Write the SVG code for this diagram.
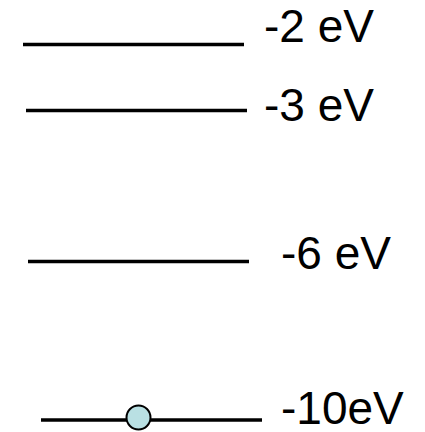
<svg xmlns="http://www.w3.org/2000/svg" width="425" height="432" viewBox="0 0 425 432">
<style>
.lvl{stroke:#000;stroke-width:3.5;fill:none}
.lbl{font-family:"Liberation Sans",Arial,sans-serif;font-size:46px;fill:#000}
</style>
<rect width="425" height="432" fill="#fff"/>
<g id="level-2">
<line class="lvl" x1="23" y1="44.5" x2="244" y2="44.5"/>
<text class="lbl" x="264" y="42">-2 eV</text>
</g>
<g id="level-3">
<line class="lvl" x1="26" y1="110.5" x2="247" y2="110.5"/>
<text class="lbl" x="264" y="120.5">-3 eV</text>
</g>
<g id="level-6">
<line class="lvl" x1="28" y1="261.5" x2="249" y2="261.5"/>
<text class="lbl" x="281" y="269">-6 eV</text>
</g>
<g id="level-10">
<line class="lvl" x1="41" y1="420" x2="262" y2="420"/>
<circle cx="138.5" cy="417.5" r="12" fill="#b9e0e3" stroke="#000" stroke-width="2"/>
<text class="lbl" x="281" y="424">-10eV</text>
</g>
</svg>
